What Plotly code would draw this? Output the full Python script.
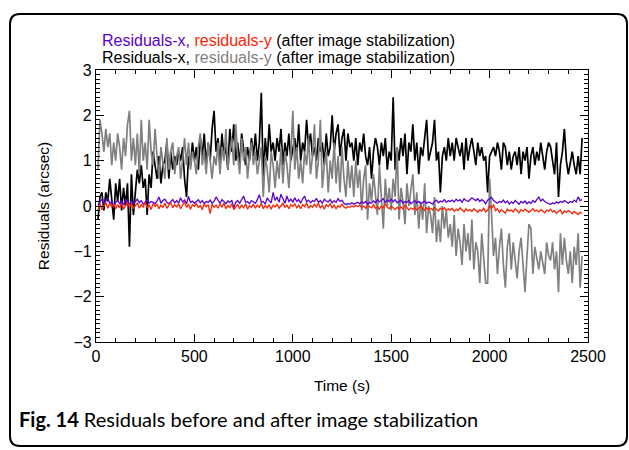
import plotly.graph_objects as go

# ---------------- data ----------------
# samples every 10 s starting at t = 10 s
t_start = 10
t_step = 10

res_x_before = [
    -0.3, 0.2, 0.3, -0.1, 0.3, 0.1, 0.6, 0.2, -0.3, 0.5,
    0.1, 0.6, -0.1, 0.4, 0.0, 0.5, -0.9, 0.7, -0.2, 0.3,
    0.8, 0.5, 0.9, 0.4, 0.6, -0.2, 0.7, 0.4, 1.2, 0.9,
    0.6, 1.1, 0.5, 0.9, 1.0, 1.4, 0.6, 1.2, 0.8, 1.1,
    0.9, 1.2, 1.0, 1.3, 0.6, 0.2, 1.1, 0.9, 1.4, 1.0,
    1.3, 0.8, 1.5, 1.1, 1.6, 0.9, 1.4, 1.0, 1.7, 2.1,
    1.2, 1.5, 0.9, 1.6, 1.1, 1.3, 0.8, 1.7, 1.2, 1.8,
    1.0, 1.4, 0.9, 1.6, 1.2, 0.9, 1.3, 1.0, 1.5, 1.1,
    1.6, 1.0, 1.4, 2.5, 0.6, 1.5, 1.0, 1.8, 1.2, 1.4,
    1.0, 1.5, 1.2, 1.7, 0.9, 1.4, 1.1, 1.6, 1.0, 1.3,
    1.5, 1.1, 1.8, 1.0, 1.4, 1.2, 1.9, 1.3, 1.6, 1.1,
    1.3, 1.0, 1.5, 1.2, 1.4, 0.9, 1.6, 1.1, 1.3, 2.0,
    1.2, 1.6, 1.8, 1.1, 1.5, 1.7, 1.0, 1.6, 1.3, 1.4,
    1.0, 1.5, 0.9, 1.4, 1.2, 1.6, 1.1, 0.9, 1.3, 0.6,
    1.2, 1.5, 1.3, 0.9, 1.4, 1.1, 1.5, 0.8, 1.2, 1.0,
    2.4, 0.8, 1.3, 1.0, 1.5, 1.1, 1.6, 0.7, 1.4, 1.2,
    1.8, 1.0, 1.4, 0.7, 1.3, 1.1, 1.5, 1.9, 1.0, 1.2,
    1.4, 1.9, 1.0, 1.2, 0.3, 1.1, 1.3, 1.0, 1.5, 1.1,
    1.4, 1.0, 1.5, 1.3, 1.1, 1.4, 0.8, 1.5, 1.0, 1.3,
    1.5, 1.2, 0.9, 1.4, 1.1, 1.3, 1.0, 1.1, 0.3, 1.1,
    1.2, 1.3, 1.1, 1.4, 1.2, 0.8, 1.4, 1.3, 0.9, 1.2,
    0.8, 1.1, 1.2, 0.9, 1.3, 0.7, 1.2, 1.0, 1.3, 0.6,
    1.1, 1.3, 0.9, 1.2, 1.0, 1.4, 1.1, 0.8, 1.2, 1.4,
    1.3, 1.0, 0.7, 1.4, 0.2, 0.9, 1.2, 1.7, 1.0, 0.7,
    1.0, 1.2, 0.9, 0.7, 1.1, 0.7, 1.5,
]

res_y_before = [
    0.8, 1.9, 1.6, 1.2, 1.7, 1.3, 1.6, 0.9, 1.4, 1.0,
    1.6, 1.3, 0.8, 1.5, 1.1, 1.8, 2.1, 1.0, 1.5, 0.9,
    1.6, 0.7, 1.9, 1.0, 1.4, 0.8, 1.9, 1.2, 0.9, 1.7,
    1.1, 0.6, 1.3, 1.0, 0.6, 1.5, 0.8, 1.2, 1.4, 0.7,
    1.1, 1.3, 0.6, 1.0, 1.5, 0.9, 1.4, 0.8, 1.2, 1.0,
    0.7, 1.3, 1.6, 0.9, 1.2, 0.7, 1.4, 1.0, 0.6, 1.1,
    0.9, 1.4, 0.7, 1.3, 1.0, 1.7, 0.8, 1.2, 1.5, 0.9,
    1.8, 1.1, 0.7, 1.5, 1.0, 1.3, 0.6, 1.1, 1.4, 0.9,
    1.2, 0.7, 1.0, 1.3, 0.2, 1.1, 0.8, 0.3, 1.2, 0.9,
    0.4, 1.0, 0.6, 1.3, 0.5, 1.2, 0.9, 0.4, 1.1, 2.1,
    0.8, 1.3, 0.6, 1.0, 0.5, 1.2, 0.9, 1.5, 0.7, 1.1,
    1.8, 0.6, 1.0, 1.9, 0.4, 0.9, 1.2, 0.3, 1.0, 0.6,
    1.4, 0.5, 1.1, 0.3, 1.3, 0.6, 0.2, 1.0, 0.4, 0.9,
    0.2, 1.0, 0.4, 0.8, -0.1, 0.6, 0.9, -0.3, 0.5, 0.1,
    0.7, 0.2, -0.2, 0.9, 0.3, -0.5, 0.6, 0.0, 0.4, -0.1,
    0.6, 0.2, 1.3, -0.3, 0.4, 0.1, -0.4, 0.5, 0.0, 0.3,
    0.7, -0.2, 0.3, -0.5, 0.1, -0.3, 0.5, -0.6, 0.0, -0.2,
    -0.6, 0.2, -0.8, -0.3, -0.8, 0.0, -0.5, -0.1, -0.7, -0.4,
    -0.9, -0.2, -1.1, -0.5, -0.8, -1.3, -0.4, -1.0, -0.6, -1.2,
    -0.3, -1.4, -0.8, -1.0, -1.7, -0.6, -1.2, -1.7, -1.7, 0.6,
    -0.2, -1.1, -0.7, -1.5, -0.9, -0.5, -1.3, -1.8, -0.9, -0.6,
    -1.4, -0.8, -1.2, -1.6, -1.0, -0.7, -1.3, -1.9, -1.1, -0.4,
    -0.5, -1.5, -0.9, -1.2, -1.4, -1.0, -1.3, -1.5, -0.8, -1.1,
    -1.2, -0.8, -1.4, -1.0, -1.9, -0.6, -1.3, -0.7, -1.2, -1.5,
    -1.0, -1.7, -0.9, -1.3, -0.6, -1.8, -1.1,
]

res_x_after = [
    0.02, 0.08, 0.15, 0.05, 0.12, 0.18, 0.06, 0.10, -0.02, 0.08,
    0.12, 0.05, 0.10, 0.02, 0.14, 0.08, 0.04, 0.11, 0.06, 0.10,
    0.15, 0.07, 0.12, 0.04, 0.09, 0.13, 0.06, 0.10, 0.08, 0.05,
    0.11, 0.20, 0.06, 0.12, 0.15, 0.08, 0.05, 0.10, 0.14, 0.07,
    0.12, 0.06, 0.18, 0.09, 0.13, 0.05, 0.21, 0.08, 0.11, 0.06,
    0.09, 0.14, 0.07, 0.12, 0.05, 0.10, 0.08, 0.13, 0.06, 0.10,
    0.20, 0.12, 0.06, 0.14, 0.09, 0.05, 0.11, 0.08, 0.13, -0.05,
    0.08, 0.12, 0.06, 0.15, 0.22, 0.08, 0.10, 0.05, 0.12, 0.09,
    0.06, 0.14, 0.25, 0.08, 0.10, 0.04, 0.18, 0.12, 0.07, 0.30,
    0.12, 0.20, 0.08, 0.26, 0.14, 0.06, 0.22, 0.10, 0.15, 0.08,
    0.18, 0.10, 0.14, 0.06, 0.16, 0.22, 0.09, 0.13, 0.07, 0.12,
    0.10, 0.17, 0.08, 0.12, 0.06, 0.15, 0.11, 0.09, 0.14, 0.07,
    0.12, 0.08, 0.16, 0.10, 0.13, 0.06, 0.03, 0.05, 0.04, 0.07,
    0.04, 0.06, 0.08, 0.05, 0.09, 0.06, 0.10, 0.04, 0.08, 0.06,
    0.11, 0.07, 0.14, 0.09, 0.12, 0.16, 0.08, 0.13, 0.10, 0.15,
    0.09, 0.14, 0.07, 0.11, 0.13, 0.06, 0.10, 0.08, 0.12, 0.05,
    0.09, 0.12, 0.07, 0.10, 0.05, 0.08, 0.11, 0.06, 0.09, 0.07,
    0.04, 0.10, 0.13, 0.07, 0.11, 0.09, 0.14, 0.08, 0.12, 0.10,
    0.13, 0.09, 0.15, 0.11, 0.14, 0.08, 0.16, 0.12, 0.10, 0.14,
    0.18, 0.15, 0.12, 0.16, 0.10, 0.14, 0.11, 0.05, 0.13, 0.16,
    0.19, 0.12, 0.08, 0.06, 0.10, 0.08, 0.13, 0.07, 0.11, 0.04,
    0.09, 0.06, 0.12, 0.08, 0.04, 0.10, 0.07, 0.11, 0.05, 0.09,
    0.06, 0.12, 0.08, 0.14, 0.20, 0.11, 0.15, 0.10, 0.07, 0.05,
    0.04, 0.07, 0.05, 0.09, 0.06, 0.10, 0.08, 0.12, 0.09, 0.06,
    0.10, 0.08, 0.13, 0.09, 0.20, 0.12, 0.14,
]

res_y_after = [
    -0.10, 0.05, -0.08, 0.02, 0.08, -0.05, 0.06, -0.02, 0.04, -0.06,
    0.03, -0.04, 0.06, -0.07, 0.02, 0.08, -0.03, 0.05, -0.06, 0.01,
    0.07, -0.05, 0.03, -0.02, 0.09, -0.04, 0.02, -0.08, 0.05, -0.01,
    0.04, -0.06, 0.02, -0.03, 0.06, -0.05, 0.01, 0.08, -0.04, 0.03,
    -0.02, 0.05, -0.06, 0.02, 0.10, -0.03, 0.04, -0.07, 0.03, -0.01,
    0.06, -0.04, 0.02, -0.08, 0.05, -0.02, 0.03, -0.17, 0.04, -0.03,
    0.02, -0.05, 0.04, -0.02, 0.06, -0.06, 0.01, -0.03, 0.05, -0.08,
    -0.02, 0.03, -0.06, 0.02, -0.04, 0.05, -0.07, 0.00, -0.03, 0.04,
    -0.05, 0.02, -0.03, 0.06, -0.06, 0.01, -0.04, 0.03, -0.07, 0.02,
    -0.02, 0.04, -0.05, 0.01, 0.06, -0.03, 0.02, -0.06, 0.03, -0.01,
    0.05, -0.04, 0.02, -0.06, 0.03, -0.02, 0.07, -0.05, 0.01, -0.03,
    0.04, -0.02, 0.06, -0.05, 0.02, -0.07, 0.03, -0.01, 0.05, -0.04,
    0.02, -0.06, 0.01, -0.03, 0.04, -0.02, -0.05, -0.01, -0.03, 0.00,
    -0.02, 0.01, -0.01, 0.02, -0.03, 0.00, -0.05, 0.01, -0.02, -0.04,
    0.03, -0.05, -0.02, -0.07, 0.00, -0.04, 0.05, -0.03, -0.06, -0.01,
    -0.04, -0.08, -0.03, -0.06, -0.02, -0.07, 0.02, -0.05, -0.09, -0.04,
    -0.07, -0.03, -0.09, -0.05, 0.00, -0.06, -0.10, -0.04, -0.08, -0.05,
    -0.09, -0.03, -0.07, -0.11, -0.05, -0.08, -0.04, -0.10, -0.06, -0.09,
    -0.05, -0.12, -0.07, -0.10, -0.04, -0.09, -0.13, -0.06, -0.11, -0.08,
    -0.12, -0.06, -0.10, -0.14, -0.08, -0.11, -0.05, -0.13, -0.09, 0.00,
    -0.05, 0.03, -0.10, -0.06, -0.14, -0.08, -0.12, -0.16, -0.07, -0.11,
    -0.09, -0.13, -0.06, -0.10, -0.15, -0.08, -0.12, -0.07, -0.11, -0.14,
    -0.10, -0.06, -0.12, -0.09, -0.13, -0.08, -0.11, -0.15, -0.09, -0.12,
    -0.07, -0.13, -0.10, -0.16, -0.12, -0.09, -0.18, -0.11, -0.14, -0.10,
    -0.13, -0.17, -0.12, -0.15, -0.19, -0.14, -0.16,
]

x_tick_vals = [0, 500, 1000, 1500, 2000, 2500]
y_tick_vals = [-3, -2, -1, 0, 1, 2, 3]

# ---------------- styling ----------------
W, H = 629, 450
L, R, T, B = 96, 588, 70, 342  # plot area in pixels
FONT = "Liberation Sans, Arial, Helvetica, sans-serif"

C_BLACK = "#000000"
C_GRAY = "#808080"
C_PURPLE = "#5a00d2"
C_RED = "#ff2200"


def times(vals):
    return [t_start + t_step * i for i in range(len(vals))]


def px(xp):
    return (xp - L) / (R - L)


def py(yp):
    return (B - yp) / (B - T)


fig = go.Figure()
fig.add_trace(go.Scatter(x=times(res_x_before), y=res_x_before, mode="lines",
                         line=dict(color=C_BLACK, width=1.7), name="Residuals-x (before)"))
fig.add_trace(go.Scatter(x=times(res_y_before), y=res_y_before, mode="lines",
                         line=dict(color=C_GRAY, width=1.7), name="residuals-y (before)"))
fig.add_trace(go.Scatter(x=times(res_x_after), y=res_x_after, mode="lines",
                         line=dict(color=C_PURPLE, width=1.3), name="Residuals-x (after)"))
fig.add_trace(go.Scatter(x=times(res_y_after), y=res_y_after, mode="lines",
                         line=dict(color=C_RED, width=1.3), name="residuals-y (after)"))

axis_common = dict(
    showgrid=False, zeroline=False, showline=True, linecolor="black", linewidth=1.2,
    mirror="ticks", ticks="inside", tickcolor="black", tickwidth=1,
    tickfont=dict(family=FONT, size=16, color="black"),
)

fig.update_xaxes(
    range=[0, 2500], tickvals=x_tick_vals, ticklen=8,
    minor=dict(dtick=100, ticks="inside", ticklen=4, tickcolor="black", tickwidth=1),
    title=dict(text="Time (s)", font=dict(family=FONT, size=15.5, color="black"), standoff=15),
    **axis_common,
)
fig.update_yaxes(
    range=[-3, 3], tickvals=y_tick_vals, ticklen=8,
    minor=dict(dtick=0.1, ticks="inside", ticklen=4, tickcolor="black", tickwidth=1),
    title=dict(text="Residuals (arcsec)", font=dict(family=FONT, size=15.5, color="black"), standoff=20),
    **axis_common,
)

annotations = [
    dict(x=px(100), y=py(41), xref="paper", yref="paper", xanchor="left", yanchor="middle",
         showarrow=False, font=dict(family=FONT, size=16, color="black"),
         text=(f"<span style='color:{C_PURPLE}'>Residuals-x,</span> "
               f"<span style='color:{C_RED}'>residuals-y</span> (after image stabilization)")),
    dict(x=px(100), y=py(58), xref="paper", yref="paper", xanchor="left", yanchor="middle",
         showarrow=False, font=dict(family=FONT, size=16, color="black"),
         text=(f"Residuals-x, <span style='color:{C_GRAY}'>residuals-y</span> "
               f"(after image stabilization)")),
    dict(x=px(17), y=py(419), xref="paper", yref="paper", xanchor="left", yanchor="middle",
         showarrow=False, font=dict(family="Lato, Noto Sans, sans-serif", size=20, color="black"),
         text="<b>Fig. 14</b> Residuals before and after image stabilization"),
]

# rounded frame around the figure
x0, x1, y0, y1, r = px(10), px(627), py(14), py(446), 10
rx, ry = r / (R - L), r / (B - T)
frame_path = (
    f"M {x0},{y1 + ry} L {x0},{y0 - ry} Q {x0},{y0} {x0 + rx},{y0} "
    f"L {x1 - rx},{y0} Q {x1},{y0} {x1},{y0 - ry} "
    f"L {x1},{y1 + ry} Q {x1},{y1} {x1 - rx},{y1} "
    f"L {x0 + rx},{y1} Q {x0},{y1} {x0},{y1 + ry} Z"
)

fig.update_layout(
    width=W, height=H,
    margin=dict(l=L, r=W - R, t=T, b=H - B),
    paper_bgcolor="white", plot_bgcolor="white",
    showlegend=False,
    annotations=annotations,
    shapes=[dict(type="path", xref="paper", yref="paper", path=frame_path,
                 line=dict(color="black", width=2))],
)

fig.write_html("out.html")
